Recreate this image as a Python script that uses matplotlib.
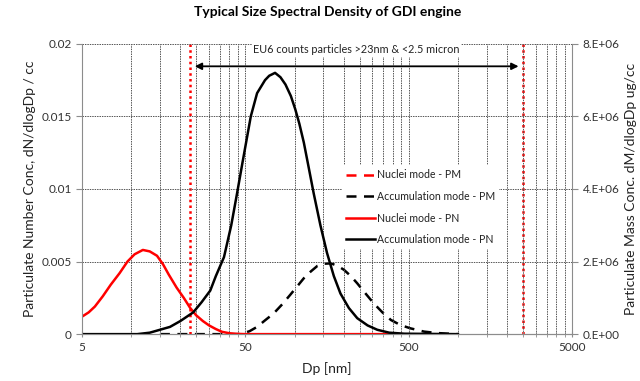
import matplotlib.pyplot as plt
from matplotlib.ticker import FixedLocator, NullFormatter, FixedFormatter

plt.rcParams['font.family'] = ['Lato', 'DejaVu Sans']

# particle diameter [nm] and values
d_nuc_pn = [5, 5.5, 6, 6.7, 7.5, 8.5, 9.5, 10.5, 11.8, 13, 14.4, 15.7, 17, 19, 21, 23,
            25, 27.5, 30, 33, 36, 40, 44, 50, 60, 100, 200, 450]
nuc_pn = [0.0012, 0.0015, 0.0019, 0.0026, 0.0034, 0.0042, 0.0050, 0.0055, 0.0058, 0.0057,
          0.0054, 0.0048, 0.0041, 0.0032, 0.0025, 0.0018, 0.0013, 0.0009, 0.0006, 0.00035,
          0.00016, 0.00006, 0.00002, 0, 0, 0, 0, 0]

d_acc_pn = [5, 8, 10.9, 13, 15, 17.3, 20, 24, 27, 30.5, 33, 37, 41, 44.5, 48, 54, 59, 66,
            70, 76, 82, 88, 95, 101, 107, 114, 122, 131, 144, 158, 174, 191, 215, 242,
            280, 321, 380, 470, 1000]
acc_pn = [0, 0, 0, 0.0001, 0.0003, 0.0005, 0.0009, 0.0015, 0.0022, 0.0030, 0.0040,
          0.0053, 0.0075, 0.0097, 0.0118, 0.0150, 0.0166, 0.0175, 0.0178, 0.0180, 0.0177,
          0.0172, 0.0164, 0.0155, 0.0145, 0.0132, 0.0115, 0.0097, 0.0075, 0.0056, 0.0040,
          0.0028, 0.0018, 0.0011, 0.0006, 0.0003, 0.0001, 0.00003, 0]

d_nuc_pm = [5, 8, 12]
nuc_pm = [0, 0, 0]

d_acc_pm = [15, 30, 46.6, 53, 59, 66, 74.5, 84, 94, 104, 114, 126, 138, 152, 167, 184,
            201, 221, 242, 272, 305, 345, 389, 445, 512, 620, 745, 1000]
acc_pm = [0, 0, 0, 0.08e6, 0.2e6, 0.38e6, 0.57e6, 0.82e6, 1.08e6, 1.32e6, 1.54e6,
          1.73e6, 1.88e6, 1.94e6, 1.95e6, 1.88e6, 1.77e6, 1.60e6, 1.40e6, 1.12e6,
          0.85e6, 0.60e6, 0.39e6, 0.25e6, 0.16e6, 0.07e6, 0.03e6, 0]

x_major = [5, 50, 500, 5000]
x_labels = ['5', '50', '500', '5000']
x_minor = [5 * 10 ** k * m for k in range(3) for m in range(2, 10)]
y_left = [0, 0.005, 0.01, 0.015, 0.02]
y_left_labels = ['0', '0.005', '0.01', '0.015', '0.02']
y_right = [0, 2e6, 4e6, 6e6, 8e6]
y_right_labels = ['0.E+00', '2.E+06', '4.E+06', '6.E+06', '8.E+06']
eu6_limits = [23, 2500]

fig = plt.figure(figsize=(6.4, 3.81), dpi=100)
ax = fig.add_axes([0.128, 0.123, 0.766, 0.762])
ax2 = ax.twinx()
ax.set_zorder(ax2.get_zorder() + 1)
ax.patch.set_visible(False)

grid_kw = dict(color='#555555', linestyle=(0, (1.5, 1)), linewidth=0.7)

ax.set_xscale('log')
ax.set_xlim(5, 5000)
ax.set_ylim(0, 0.02)
ax2.set_ylim(0, 8e6)
ax.xaxis.set_major_locator(FixedLocator(x_major))
ax.xaxis.set_major_formatter(FixedFormatter(x_labels))
ax.xaxis.set_minor_locator(FixedLocator(x_minor))
ax.xaxis.set_minor_formatter(NullFormatter())
ax.set_yticks(y_left)
ax.set_yticklabels(y_left_labels)
ax2.set_yticks(y_right)
ax2.set_yticklabels(y_right_labels)
ax.grid(True, which='both', axis='x', **grid_kw)
ax.grid(True, which='major', axis='y', **grid_kw)

for a in (ax, ax2):
    a.spines['top'].set_visible(False)
    for s in ('left', 'right', 'bottom'):
        a.spines[s].set_color('#8c8c8c')
ax.spines['right'].set_visible(False)
ax2.spines['left'].set_visible(False)
ax.tick_params(which='both', color='#8c8c8c', labelcolor='#333333', labelsize=8.5, length=4)
ax.tick_params(axis='x', which='both', direction='inout', length=5)
ax2.tick_params(color='#8c8c8c', labelcolor='#333333', labelsize=8.5, length=4)

for x in eu6_limits:
    ax.axvline(x, color='red', linestyle=(0, (1, 1.3)), linewidth=1.8, zorder=1.5)

line_kw = dict(lw=1.8, solid_joinstyle='round', dash_joinstyle='round')
l1, = ax2.plot(d_nuc_pm, nuc_pm, color='red', ls=(0, (4, 3)), label='Nuclei mode - PM', **line_kw)
l2, = ax2.plot(d_acc_pm, acc_pm, color='black', ls=(0, (4, 3)), label='Accumulation mode - PM', **line_kw)
l3, = ax.plot(d_nuc_pn, nuc_pn, color='red', label='Nuclei mode - PN', **line_kw)
l4, = ax.plot(d_acc_pn, acc_pn, color='black', label='Accumulation mode - PN', **line_kw)

ax.annotate('', xy=(24.5, 0.01845), xytext=(2350, 0.01845),
            arrowprops=dict(arrowstyle='<|-|>', color='black', lw=1.3,
                            mutation_scale=10, shrinkA=0, shrinkB=0))
ax.text(240, 0.0196, 'EU6 counts particles >23nm & <2.5 micron', ha='center', va='center',
        fontsize=7.8, color='#222222',
        bbox=dict(facecolor='white', edgecolor='none', pad=1))

leg = ax.legend(handles=[l1, l2, l3, l4], loc='upper left', bbox_to_anchor=(0.52, 0.60),
                fontsize=7.6, frameon=True, facecolor='white', edgecolor='none',
                framealpha=1, fancybox=False, handlelength=2.7, handletextpad=0.2,
                labelspacing=1.0, borderpad=0.4)
for t in leg.get_texts():
    t.set_color('#222222')

ax.set_xlabel('Dp [nm]', fontsize=10, color='#222222', labelpad=6)
ax.set_ylabel('Particulate Number Conc, dN/dlogDp / cc', fontsize=10, color='#222222')
ax2.set_ylabel('Particulate Mass Conc. dM/dlogDp ug/cc', fontsize=10, color='#222222', labelpad=4)
fig.suptitle('Typical Size Spectral Density of GDI engine', fontsize=10, fontweight='bold',
             x=0.512, y=0.985)

fig.savefig('out.png', dpi=100)
